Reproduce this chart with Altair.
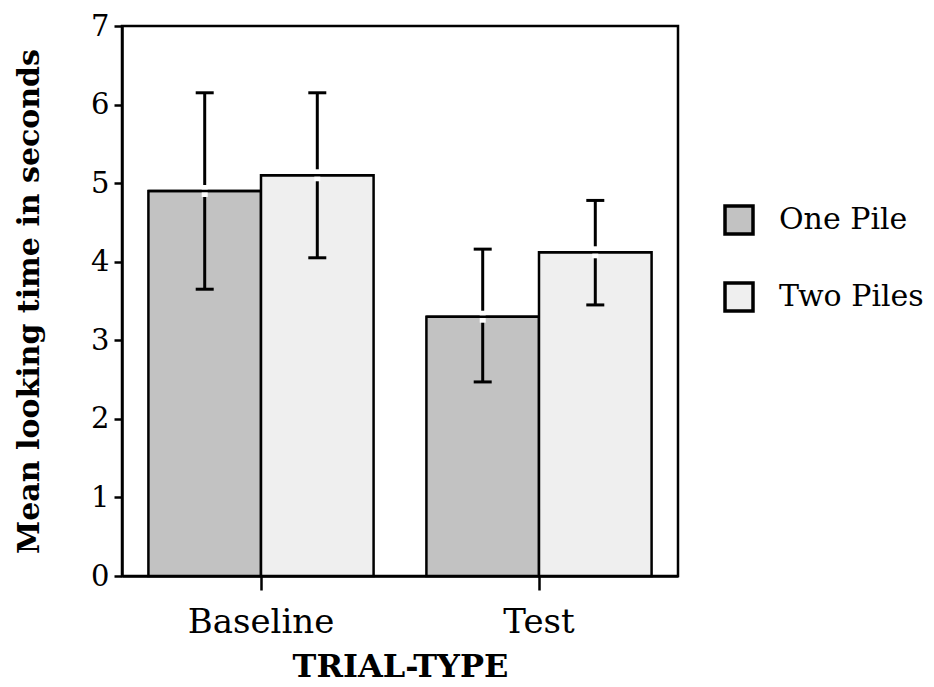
import altair as alt
import pandas as pd

trial = ["Baseline", "Baseline", "Test", "Test"]
pile = ["One Pile", "Two Piles", "One Pile", "Two Piles"]
mean = [4.9, 5.1, 3.3, 4.12]
low = [3.65, 4.05, 2.47, 3.45]
high = [6.15, 6.15, 4.16, 4.78]

df = pd.DataFrame({"trial": trial, "pile": pile, "mean": mean, "low": low, "high": high})

FONT = "DejaVu Serif"

x = alt.X("trial:N", title="TRIAL-TYPE", sort=["Baseline", "Test"],
          scale=alt.Scale(paddingInner=0.19, paddingOuter=0.095),
          axis=alt.Axis(labelAngle=0, tickSize=14, tickWidth=2.5, tickColor="black",
                        domainColor="black", domainWidth=2.5, labelFontSize=34,
                        labelPadding=15, titleFontSize=32, titleFontWeight="bold",
                        titlePadding=12, labelFont=FONT, titleFont=FONT,
                        labelColor="black", titleColor="black"))
xo = alt.XOffset("pile:N", sort=["One Pile", "Two Piles"])
y = alt.Y("mean:Q", title="Mean looking time in seconds",
          scale=alt.Scale(domain=[0, 7], nice=False),
          axis=alt.Axis(values=[0, 1, 2, 3, 4, 5, 6, 7], format="d", tickSize=8, tickWidth=2.5,
                        tickColor="black", domainColor="black", domainWidth=2.5,
                        grid=False, labelFontSize=29, labelPadding=5,
                        titleFontSize=30, titleFontWeight="bold", titlePadding=46,
                        labelFont=FONT, titleFont=FONT, labelColor="black",
                        titleColor="black"))

base = alt.Chart(df)

bars = base.mark_bar(stroke="black", strokeWidth=2.5).encode(
    x=x, xOffset=xo, y=y,
    fill=alt.Fill("pile:N", sort=["One Pile", "Two Piles"],
                  scale=alt.Scale(domain=["One Pile", "Two Piles"],
                                  range=["#c2c2c2", "#efefef"]),
                  legend=alt.Legend(title=None, orient="none", legendX=601, legendY=178,
                                    symbolType="square", symbolSize=784,
                                    symbolStrokeColor="black", symbolStrokeWidth=3.5,
                                    labelFontSize=30, labelFont=FONT, labelColor="black",
                                    labelLimit=400, rowPadding=35, labelOffset=24)),
)

err = base.mark_rule(color="black", strokeWidth=3).encode(
    x=alt.X("trial:N", sort=["Baseline", "Test"]), xOffset=xo,
    y="low:Q", y2="high:Q")

gap = base.mark_tick(color="white", orient="vertical", size=12, thickness=6, opacity=1).encode(
    x=alt.X("trial:N", sort=["Baseline", "Test"]), xOffset=xo, y="mean:Q")

topline = base.mark_tick(color="black", orient="horizontal", size=113, thickness=2.5, opacity=1).encode(
    x=alt.X("trial:N", sort=["Baseline", "Test"]), xOffset=xo, y="mean:Q")

cap_hi = base.mark_tick(color="black", orient="horizontal", size=18, thickness=3, opacity=1).encode(
    x=alt.X("trial:N", sort=["Baseline", "Test"]), xOffset=xo, y="high:Q")
cap_lo = base.mark_tick(color="black", orient="horizontal", size=18, thickness=3, opacity=1).encode(
    x=alt.X("trial:N", sort=["Baseline", "Test"]), xOffset=xo, y="low:Q")

chart = alt.layer(bars, err, gap, topline, cap_hi, cap_lo).properties(
    width=556, height=550,
    autosize=alt.AutoSizeParams(type="none"),
    padding={"left": 114, "top": 18, "right": 248, "bottom": 110},
).configure(
    background="white",
    view=alt.ViewConfig(stroke="black", strokeWidth=2.5),
)

chart.save("out.html", embed_options={"renderer": "svg", "actions": False})
